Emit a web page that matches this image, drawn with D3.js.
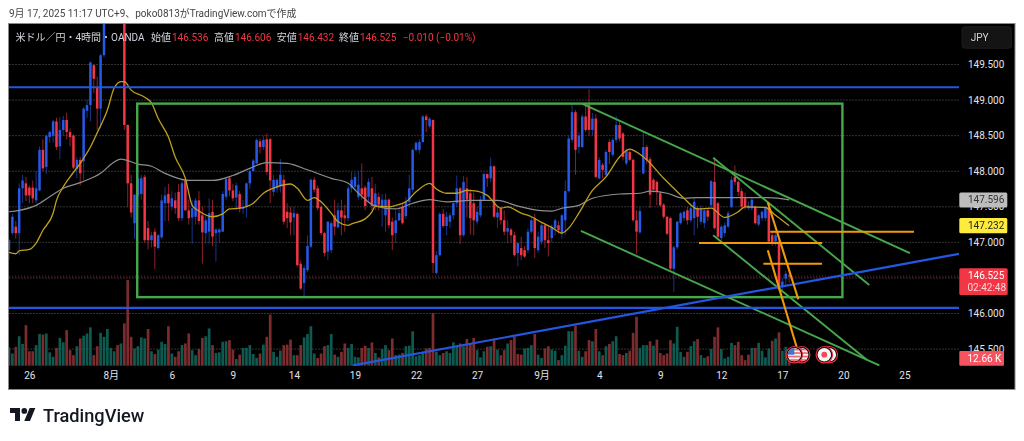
<!DOCTYPE html>
<html><head><meta charset="utf-8">
<script src="https://cdn.jsdelivr.net/npm/d3@7/dist/d3.min.js"></script>
<style>
html,body{margin:0;padding:0;background:#fff;overflow:hidden}
svg{display:block;filter:blur(.3px)}
text{font-family:Roboto,"Noto Sans CJK JP",sans-serif}
</style></head><body>
<svg id="c" width="1024" height="441"></svg>
<script>
const opens=[
146.89,147.13,147.22,147.13,147.76,147.83,147.77,147.77,147.59,147.73,
148.30,148.06,148.48,148.50,148.70,148.35,148.58,148.72,148.55,148.50,
148.03,148.16,148.14,148.85,148.93,149.49,149.18,148.88,149.63,150.20,
150.50,150.70,150.75,150.60,150.70,148.65,147.83,147.27,147.66,147.68,
147.92,147.20,147.03,147.15,146.92,147.07,147.55,147.68,147.50,147.59,
147.71,147.34,147.87,147.45,147.35,147.36,147.59,147.38,147.13,147.15,
147.43,147.13,147.14,147.15,147.64,147.90,147.73,147.63,147.68,147.47,
147.50,147.83,148.00,148.11,148.42,148.34,148.45,148.45,147.71,147.76,
147.79,147.88,147.43,147.42,147.35,147.40,146.70,146.43,146.61,146.94,
147.88,147.76,147.50,147.13,146.87,146.89,147.38,147.21,147.45,147.38,
147.34,147.76,147.78,147.64,147.76,147.77,147.64,147.76,147.51,147.64,
147.49,147.38,147.60,147.29,147.13,147.31,147.50,147.37,147.57,147.74,
148.30,148.30,148.41,148.77,148.63,148.72,146.57,146.82,147.40,147.23,
147.29,147.38,147.55,147.76,147.10,147.76,147.69,147.55,147.29,147.38,
147.60,147.96,147.90,148.07,147.35,147.48,147.31,147.15,147.18,147.10,
146.85,146.92,146.89,146.89,147.15,147.34,146.89,147.01,147.24,147.03,
147.06,147.20,147.24,147.12,147.31,147.72,148.44,148.83,148.34,148.34,
148.77,148.93,148.58,148.74,147.90,148.09,147.95,148.41,148.23,148.44,
148.65,148.53,148.11,148.27,148.16,147.31,147.14,147.97,148.34,148.17,
147.88,147.85,147.69,147.53,147.36,147.34,146.63,146.93,147.27,147.34,
147.45,147.31,147.34,147.48,147.29,147.27,147.45,147.52,147.85,147.55,
147.06,147.13,147.22,147.50,147.92,147.85,147.72,147.62,147.48,147.48,
147.50,147.25,147.34,147.34,147.48,147.10,147.01,147.01,146.38,146.49,
146.536];
const highs=[
147.05,147.40,147.30,147.83,147.95,147.92,147.80,147.87,148.00,148.35,
148.45,148.50,148.57,148.72,148.75,148.76,148.78,148.82,148.60,148.52,
148.20,148.20,148.90,149.00,149.54,149.50,149.33,149.65,150.30,150.60,
150.80,150.90,150.85,150.80,150.80,148.66,147.95,147.68,148.10,147.95,
147.95,147.30,147.15,147.20,147.12,147.67,147.78,147.82,147.72,147.70,
147.82,147.88,147.90,147.60,147.60,147.62,147.72,147.50,147.40,147.62,
147.60,147.20,147.20,147.72,147.92,147.93,147.82,147.84,147.72,147.60,
147.84,148.02,148.17,148.46,148.46,148.50,148.53,148.47,147.95,147.90,
148.17,147.95,147.55,147.50,147.50,147.42,146.75,146.68,147.10,147.90,
147.92,147.80,147.52,147.15,147.30,147.30,147.60,147.55,147.60,147.53,
147.80,147.99,147.98,148.00,148.11,147.80,147.90,147.92,147.82,147.70,
147.68,147.69,147.62,147.35,147.45,147.50,147.55,147.64,147.95,148.32,
148.42,148.45,148.79,148.80,148.76,148.73,146.88,147.42,147.47,147.43,
147.42,147.58,147.94,147.78,147.93,147.92,147.75,147.70,147.50,147.65,
147.98,147.97,148.19,148.08,147.50,147.50,147.45,147.31,147.20,147.15,
147.00,147.08,146.95,147.20,147.36,147.40,147.15,147.27,147.26,147.22,
147.25,147.33,147.30,147.40,147.87,148.50,148.95,148.86,148.55,148.80,
148.95,149.15,148.82,148.80,148.20,148.12,148.30,148.45,148.47,148.78,
148.70,148.55,148.32,148.30,148.18,147.45,147.50,148.55,148.37,148.20,
147.90,147.87,147.72,147.55,147.37,147.36,146.95,147.30,147.43,147.45,
147.50,147.50,147.62,147.50,147.52,147.48,147.48,147.88,148.19,147.57,
147.25,147.28,147.44,147.93,148.08,147.87,147.76,147.70,147.58,147.62,
147.52,147.40,147.45,147.50,147.52,147.15,147.15,147.03,146.50,146.60,
146.606];
const lows=[
146.75,147.10,147.05,146.82,147.55,147.58,147.55,147.55,147.55,147.72,
148.00,147.96,148.40,148.40,148.30,148.17,148.50,148.45,148.35,148.03,
147.90,147.80,147.87,148.75,148.70,149.10,148.58,148.60,149.60,150.15,
150.40,150.60,150.50,150.50,148.58,147.50,147.35,147.05,147.50,147.60,
147.00,146.90,146.93,146.62,146.90,147.05,147.30,147.30,147.45,147.40,
147.30,147.30,147.45,147.25,146.98,147.25,147.25,146.70,146.98,146.98,
146.95,146.73,147.00,147.15,147.60,147.65,147.58,147.45,147.42,147.40,
147.35,147.75,148.00,148.10,148.25,148.30,147.95,147.55,147.65,147.70,
147.70,147.25,147.20,147.10,147.10,146.66,146.33,146.23,146.58,146.92,
147.70,147.45,147.10,146.80,146.75,146.85,147.10,147.20,147.10,147.15,
147.30,147.70,147.72,147.60,147.60,147.45,147.55,147.45,147.45,147.45,
147.22,147.15,147.20,146.89,146.99,147.30,147.25,147.33,147.50,147.70,
148.28,148.25,148.40,148.55,148.60,146.57,146.55,146.80,147.20,147.10,
147.20,147.32,147.50,146.98,147.08,147.35,147.11,147.10,147.25,147.35,
147.58,147.78,147.85,147.34,147.20,147.25,147.10,146.99,147.00,146.80,
146.66,146.75,146.78,146.85,147.12,146.78,146.85,146.97,146.92,146.80,
147.00,147.10,147.12,147.05,147.10,147.70,148.40,147.95,148.25,148.33,
148.55,148.50,148.50,147.90,147.88,147.90,147.93,148.10,148.20,148.40,
148.42,148.15,148.08,148.14,147.29,146.84,147.12,147.95,148.10,147.48,
147.70,147.52,147.50,147.33,147.10,146.60,146.30,146.90,147.25,147.30,
147.25,147.28,147.10,147.20,147.25,147.20,147.30,147.50,147.18,147.05,
147.00,147.08,147.20,147.48,147.80,147.65,147.48,147.46,147.45,147.45,
147.25,147.22,147.30,147.30,146.98,146.95,146.95,146.32,146.30,146.40,
146.432];
const closes=[
147.03,147.36,147.13,147.76,147.87,147.66,147.66,147.62,147.76,148.30,
148.04,148.50,148.55,148.70,148.34,148.58,148.72,148.55,148.48,148.05,
148.16,147.97,148.88,148.93,149.53,149.30,148.88,149.63,150.20,150.50,
150.70,150.75,150.60,150.70,148.65,147.83,147.42,147.67,147.90,147.90,
147.03,147.03,147.10,146.94,147.10,147.59,147.66,147.55,147.62,147.48,
147.34,147.83,147.45,147.34,147.48,147.59,147.30,147.14,147.31,147.41,
147.08,147.18,147.18,147.68,147.89,147.73,147.62,147.80,147.47,147.50,
147.83,148.00,148.15,148.44,148.34,148.44,147.99,147.87,147.88,147.88,
147.95,147.29,147.34,147.28,147.41,146.68,146.35,146.64,146.95,147.88,
147.74,147.48,147.13,146.85,147.29,147.27,147.22,147.45,147.35,147.34,
147.76,147.88,147.92,147.81,147.67,147.51,147.85,147.51,147.69,147.53,
147.60,147.60,147.24,147.10,147.31,147.41,147.27,147.57,147.76,148.30,
148.40,148.41,148.77,148.72,148.74,146.71,146.82,147.40,147.23,147.36,
147.38,147.55,147.76,147.10,147.85,147.60,147.34,147.31,147.43,147.60,
147.96,147.90,148.07,147.36,147.42,147.31,147.15,147.20,147.10,146.82,
146.99,146.82,146.80,147.15,147.31,146.92,147.08,147.24,147.03,146.99,
147.22,147.31,147.17,147.38,147.72,148.46,148.83,148.30,148.50,148.77,
148.58,148.58,148.74,147.92,148.16,148.02,148.27,148.27,148.44,148.65,
148.46,148.20,148.30,148.16,147.31,147.15,147.44,148.34,148.16,147.67,
147.74,147.71,147.52,147.36,147.12,146.63,146.93,147.29,147.41,147.43,
147.31,147.48,147.57,147.36,147.48,147.45,147.36,147.86,147.20,147.08,
147.22,147.24,147.41,147.88,147.85,147.71,147.50,147.50,147.52,147.60,
147.27,147.38,147.43,147.48,147.01,146.99,147.10,146.38,146.45,146.56,
146.525];
const volumes=[
33,22,34,53,39,73,26,26,37,57,
56,58,24,16,32,50,42,64,28,19,
35,49,54,58,69,19,35,59,52,66,
32,26,37,40,76,154,52,31,35,51,
49,66,26,21,29,43,39,71,22,16,
26,37,40,58,28,19,30,50,53,67,
37,23,24,43,44,46,29,12,20,32,
32,37,21,14,22,38,52,92,25,16,
27,37,38,47,19,19,37,51,57,71,
22,14,22,35,37,57,20,16,25,40,
32,39,16,15,32,36,32,42,23,15,
30,37,28,49,19,20,23,35,36,62,
17,19,25,31,32,95,25,19,23,26,
23,42,36,40,35,48,40,50,28,15,
26,34,35,49,29,19,28,40,46,52,
21,20,31,32,37,57,20,14,31,35,
29,27,10,19,36,62,62,72,27,16,
26,46,44,66,26,19,35,39,44,53,
21,19,23,27,59,88,32,37,37,44,
36,47,23,19,22,46,40,70,25,16,
25,35,44,48,19,14,17,30,52,69,
30,13,16,41,37,43,19,10,20,32,
32,41,27,15,31,45,49,60,27,34,
12.66];
const volumeUp=[
1,1,0,1,1,0,0,0,1,1,
0,1,1,1,0,1,1,0,0,0,
1,0,1,1,1,0,0,1,1,1,
1,1,0,1,0,0,0,1,1,1,
1,0,1,0,1,1,1,0,1,0,
0,1,0,0,1,1,0,0,1,1,
0,1,1,1,1,0,0,1,0,1,
1,1,1,1,0,1,0,0,1,1,
1,0,0,0,1,0,0,1,1,1,
1,0,0,0,1,1,0,1,0,0,
1,1,1,1,0,0,1,0,1,0,
1,1,0,0,1,1,0,1,1,1,
1,1,1,0,0,0,1,1,0,1,
1,1,1,0,1,0,0,0,1,1,
1,0,1,0,1,0,0,1,0,0,
0,0,1,1,1,0,1,1,0,0,
1,1,0,1,1,1,1,0,1,1,
0,0,1,0,1,0,1,0,1,1,
0,0,1,0,0,0,1,1,1,0,
1,0,0,0,0,0,1,1,1,1,
0,1,1,0,1,1,0,1,0,0,
1,1,1,1,0,0,0,0,0,1,
0,1,1,1,1,0,1,0,1,1,
0];
const yellowBars=[0,2,3,6,8,10,13,14,16,18,21,24,26,29,31,33,34,36,40,42,44,47,49,52,54,56,60,63,65,68,72,75,79,83,85,88,90,92,95,97,100,101,105,107,108,112,114,117,120,124,126,129,132,135,138,141,145,147,151,154,157,160,163,165,168,172,176,180,183,185,188,193,196,199,203,207,211,215,217,223,226,230];
const yellowPrices=[146.86,146.84,146.88,146.90,146.99,147.17,147.41,147.59,147.78,147.92,148.11,148.34,148.54,148.86,149.17,149.26,149.26,149.14,149.04,148.96,148.74,148.48,148.20,147.90,147.52,147.44,147.36,147.40,147.47,147.48,147.55,147.69,147.78,147.82,147.76,147.59,147.63,147.57,147.41,147.29,147.24,147.26,147.33,147.43,147.51,147.50,147.52,147.57,147.71,147.83,147.75,147.69,147.69,147.73,147.72,147.66,147.48,147.50,147.41,147.36,147.28,147.21,147.13,147.20,147.41,147.73,147.92,148.20,148.31,148.27,148.16,147.90,147.76,147.62,147.47,147.48,147.35,147.43,147.50,147.49,147.38,147.232];
const grayBars=[0,3,8,12,16,21,27,31,33,38,42,46,53,60,66,71,76,82,88,95,100,103,108,114,119,124,129,136,144,150,156,160,163,168,172,180,186,189,194,199,203,218,224,230];
const grayPrices=[147.43,147.45,147.52,147.64,147.76,147.84,147.97,148.13,148.17,148.10,148.07,147.97,147.87,147.87,147.94,148.04,148.12,148.11,148.02,147.90,147.83,147.69,147.51,147.47,147.55,147.60,147.57,147.59,147.59,147.51,147.45,147.44,147.48,147.52,147.62,147.68,147.69,147.72,147.69,147.62,147.63,147.63,147.63,147.596];
const priceGrid=[145.5,146,146.5,147,147.5,148,148.5,149,149.5];
const priceTicks=[145.5,146,147,147.5,148,148.5,149,149.5];
const timeBars=[6,30,48,66,84,102,120,138,157,174,192,210,228,246,264];
const timeLabels=["26","8月","6","9","14","19","22","27","9月","4","9","12","17","20","25"];
const greenRect=[37.8,148.95,245.7,146.23];
const greenLines=[[168.9,148.95,265.6,146.85],[168.6,147.16,256.6,145.27],[207.6,148.19,253.6,146.40],[207.6,147.10,252.9,145.35]];
const blueLines=[[-3,149.18,280.5,149.18],[-3,146.08,280.5,146.08],[101.4,145.27,280.1,146.84]];
const orangeLines=[[224.4,147.15,266.8,147.15],[203.4,146.99,239.7,146.99],[222.4,146.70,239.7,146.70],[223.7,147.56,232.7,146.20],[223.7,146.89,232.2,145.53]];
const lastPrice=146.525;
const legendItems=[["米ドル／円・4時間・OANDA",15.5,"#d1d4dc"],["始値",151,"#d1d4dc"],["146.536",172,"#f23645"],["高値",214,"#d1d4dc"],["146.606",235,"#f23645"],["安値",276.7,"#d1d4dc"],["146.432",297.7,"#f23645"],["終値",339,"#d1d4dc"],["146.525",360,"#f23645"],["−0.010",402.7,"#f23645"],["(−0.01%)",436,"#f23645"]];

const svg=d3.select("#c");
const x=d3.scaleLinear().domain([0,264]).range([9,9+3.392*264]);
const y=d3.scaleLinear().domain([146,149.5]).range([313.5,64.5]);
const yV=d3.scaleLinear().domain([0,154]).range([365.7,280.1]);
const UP="#2559e6",DOWN="#f23645";

svg.append("rect").attr("x",8.5).attr("y",23.5).attr("width",1006.5).attr("height",366).attr("fill","#000").attr("stroke","#8a8a8a");
const defs=svg.append("defs");
defs.append("clipPath").attr("id","plot").append("rect").attr("x",9).attr("y",24).attr("width",950).attr("height",342);
const plot=svg.append("g").attr("clip-path","url(#plot)");

// grid
plot.append("g").selectAll("line").data(priceGrid).join("line")
 .attr("x1",9).attr("x2",959).attr("y1",d=>y(d)).attr("y2",d=>y(d))
 .attr("stroke","#333").attr("stroke-dasharray","2 1");
plot.append("line").attr("x1",9).attr("x2",959).attr("y1",y(lastPrice)).attr("y2",y(lastPrice))
 .attr("stroke","#7a2028").attr("stroke-dasharray","1 2");

// volume
plot.append("g").selectAll("rect").data(volumes).join("rect")
 .attr("x",(d,i)=>x(i)-1.35).attr("width",2.7)
 .attr("y",d=>yV(d)).attr("height",d=>yV(0)-yV(d))
 .attr("fill",(d,i)=>volumeUp[i]?"#0f5a50":"#7c2c2e");

// candles
const idx=d3.range(opens.length);
plot.append("g").selectAll("line").data(idx).join("line")
 .attr("x1",i=>x(i)).attr("x2",i=>x(i)).attr("y1",i=>y(highs[i])).attr("y2",i=>y(lows[i]))
 .attr("stroke",i=>closes[i]>=opens[i]?UP:DOWN).attr("stroke-width",1).attr("opacity",.6);
plot.append("g").selectAll("rect").data(idx).join("rect")
 .attr("x",i=>x(i)-1.25).attr("width",2.5)
 .attr("y",i=>y(Math.max(opens[i],closes[i])))
 .attr("height",i=>Math.max(1,Math.abs(y(opens[i])-y(closes[i]))))
 .attr("fill",i=>closes[i]>=opens[i]?UP:DOWN);

// moving averages
const ln=d3.line().x(d=>x(d[0])).y(d=>y(d[1])).curve(d3.curveMonotoneX);
plot.append("path").attr("d",ln(grayBars.map((b,i)=>[b,grayPrices[i]]))).attr("fill","none").attr("stroke","#8e8e8e").attr("stroke-width",1.2);
plot.append("path").attr("d",ln(yellowBars.map((b,i)=>[b,yellowPrices[i]]))).attr("fill","none").attr("stroke","#bfa01c").attr("stroke-width",1.3);

// drawings
function seg(data,color,w){
 plot.append("g").selectAll("line").data(data).join("line")
  .attr("x1",d=>x(d[0])).attr("y1",d=>y(d[1])).attr("x2",d=>x(d[2])).attr("y2",d=>y(d[3]))
  .attr("stroke",color).attr("stroke-width",w);
}
plot.append("rect").attr("x",x(greenRect[0])).attr("y",y(greenRect[1]))
 .attr("width",x(greenRect[2])-x(greenRect[0])).attr("height",y(greenRect[3])-y(greenRect[1]))
 .attr("fill","none").attr("stroke","#46a74b").attr("stroke-width",2.4);
seg(greenLines,"#46a74b",1.9);
seg(blueLines,"#2457e0",2.2);
seg(orangeLines,"#f09a0a",2.1);

// flags
const flagY=354.7;
function usFlag(cx,id){
 const g=plot.append("g");
 g.append("circle").attr("cx",cx).attr("cy",flagY).attr("r",8.2).attr("fill","#000").attr("stroke","#e5303e").attr("stroke-width",1.2);
 defs.append("clipPath").attr("id",id).append("circle").attr("cx",cx).attr("cy",flagY).attr("r",6.8);
 const f=g.append("g").attr("clip-path",`url(#${id})`);
 f.append("rect").attr("x",cx-7).attr("y",flagY-7).attr("width",14).attr("height",14).attr("fill","#f4f4f4");
 [-6,-2.5,1,4.5].forEach(o=>f.append("rect").attr("x",cx-7).attr("y",flagY+o).attr("width",14).attr("height",1.7).attr("fill","#ef6a6f"));
 f.append("rect").attr("x",cx-7).attr("y",flagY-7).attr("width",7).attr("height",7).attr("fill","#3f74d6");
}
function jpFlag(cx,id){
 const g=plot.append("g");
 g.append("circle").attr("cx",cx).attr("cy",flagY).attr("r",8.2).attr("fill","#000").attr("stroke","#e5303e").attr("stroke-width",1.2);
 g.append("circle").attr("cx",cx).attr("cy",flagY).attr("r",6.8).attr("fill","#f4f4f4");
 g.append("circle").attr("cx",cx).attr("cy",flagY).attr("r",2.9).attr("fill","#f2495a");
}
usFlag(801.7,"us2");usFlag(794.3,"us1");jpFlag(829.3,"jp2");jpFlag(824.3,"jp1");

// axes
const ya=svg.append("g").attr("transform","translate(968,0)").call(d3.axisRight(y).tickValues(priceTicks).tickSize(0).tickPadding(0).tickFormat(d3.format(".3f")));
ya.select(".domain").remove();
ya.selectAll("text").attr("fill","#e0e3eb").attr("font-size",10).attr("font-family",'Roboto,sans-serif');
const xa=svg.append("g").attr("transform","translate(0,372)").call(d3.axisBottom(x).tickValues(timeBars).tickSize(0).tickPadding(0).tickFormat((d,i)=>timeLabels[i]));
xa.select(".domain").remove();
xa.selectAll("text").attr("fill","#e0e3eb").attr("font-size",10).attr("font-family",'Roboto,"Noto Sans CJK JP",sans-serif');

// price labels
function tag(yc,h,w,fill,txt,col){
 svg.append("rect").attr("x",959.3).attr("y",yc-h/2).attr("width",w).attr("height",h).attr("rx",1.5).attr("fill",fill);
 svg.append("text").attr("x",968).attr("y",yc+3.5).attr("font-size",10).attr("fill",col).text(txt);
}
tag(y(147.596),15,48,"#bdbdbd","147.596","#333");
tag(y(147.232)-.2,15.4,48,"#ffeb3b","147.232","#222");
svg.append("rect").attr("x",959.3).attr("y",268.3).attr("width",48.4).attr("height",26.7).attr("rx",1.5).attr("fill","#f23645");
svg.append("text").attr("x",968).attr("y",279).attr("font-size",10).attr("fill","#fff").text("146.525");
svg.append("text").attr("x",967.5).attr("y",291).attr("font-size",10).attr("fill","#fbd5d8").text("02:42:48");
svg.append("rect").attr("x",959.3).attr("y",351).attr("width",44.7).attr("height",14.7).attr("rx",1).attr("fill","#f7525f");
svg.append("text").attr("x",967.5).attr("y",362).attr("font-size",10).attr("fill","#fff").text("12.66 K");

// currency button
svg.append("rect").attr("x",962).attr("y",26.7).attr("width",49.7).attr("height",21.6).attr("rx",3).attr("fill","#141414").attr("stroke","#2a2a2a").attr("stroke-width",.6);
svg.append("text").attr("x",970.7).attr("y",41).attr("font-size",10).attr("fill","#d1d4dc").text("JPY");

// legend
svg.append("g").selectAll("text").data(legendItems).join("text")
 .attr("x",d=>d[1]).attr("y",40.5).attr("font-size",10).attr("fill",d=>d[2]).text(d=>d[0]);

// header
svg.append("text").attr("x",9).attr("y",16.5).attr("font-size",10).attr("fill","#444")
 .text("9月 17, 2025 11:17 UTC+9、poko0813がTradingView.comで作成");

// logo
const lg=svg.append("g").attr("transform","translate(10,405.2) scale(0.714)").attr("fill","#131722");
lg.append("path").attr("d","M14 22H7V11H0V4h14v18zM28 22h-8l7.5-18h8L28 22z");
lg.append("circle").attr("cx",20).attr("cy",8).attr("r",4);
svg.append("text").attr("x",43).attr("y",421.5).attr("font-size",18.2).attr("font-weight",500).attr("fill","#131722").attr("font-family","Inter,Roboto,sans-serif").text("TradingView");
</script>
</body></html>
